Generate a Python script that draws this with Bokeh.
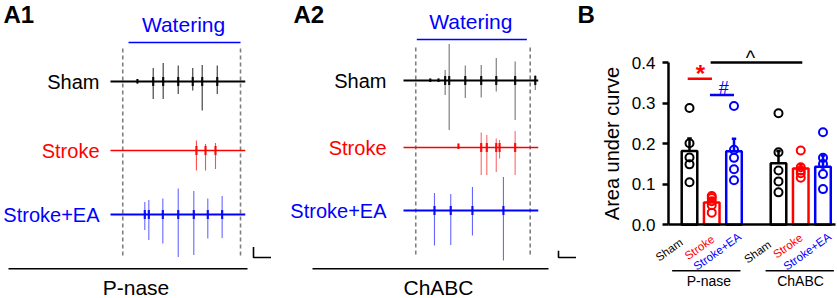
from bokeh.plotting import figure
from bokeh.layouts import row
from bokeh.models import Range1d, LinearAxis, FixedTicker, NumeralTickFormatter
from bokeh.core.properties import value
from bokeh.embed import file_html
from bokeh.resources import INLINE

FONT = "Liberation Sans"

# ---------------- data ----------------
groups = ["Sham", "Stroke", "Stroke+EA"]
group_colors = ["#000000", "#ff0000", "#0000ff"]
treatments = ["P-nase", "ChABC"]

# A1 (P-nase) traces: spike times (s), upward / downward amplitudes (mV)
a1_sham_t = [1.54, 2.44, 3.01, 3.87, 4.70, 5.24, 6.10]
a1_sham_up = [0.05, 0.27, 0.37, 0.32, 0.27, 0.33, 0.32]
a1_sham_dn = [0.04, 0.35, 0.35, 0.25, 0.18, 0.58, 0.25]
a1_stroke_t = [4.91, 5.43, 6.00]
a1_stroke_up = [0.20, 0.13, 0.15]
a1_stroke_dn = [0.40, 0.40, 0.37]
a1_ea_t = [1.96, 2.19, 2.99, 3.87, 4.76, 5.56, 6.38]
a1_ea_up = [0.25, 0.29, 0.32, 0.52, 0.47, 0.32, 0.37]
a1_ea_dn = [0.31, 0.51, 0.58, 0.85, 0.81, 0.48, 0.47]

# A2 (ChABC) traces
a2_sham_t = [1.53, 2.00, 2.38, 2.61, 3.53, 4.44, 5.30, 6.38, 7.53]
a2_sham_up = [0.04, 0.04, 0.21, 0.73, 0.30, 0.31, 0.45, 0.38, 0.11]
a2_sham_dn = [0.03, 0.03, 0.29, 0.99, 0.35, 0.34, 0.22, 0.79, 0.19]
a2_stroke_t = [3.14, 4.44, 4.76, 5.30, 5.49, 6.38]
a2_stroke_up = [0.08, 0.30, 0.25, 0.18, 0.15, 0.33]
a2_stroke_dn = [0.03, 0.55, 0.55, 0.49, 0.22, 0.55]
a2_ea_t = [1.77, 2.70, 3.94, 5.71]
a2_ea_up = [0.35, 0.33, 0.47, 0.67]
a2_ea_dn = [0.70, 0.69, 0.50, 1.00]

trace_len = 7.7          # s
watering_a1 = [1.03, 7.43]
watering_a2 = [0.76, 7.05]
dash_a1 = [0.70, 7.43]
dash_a2 = [0.70, 7.24]

# B: area under curve
pnase_mean = [0.182, 0.055, 0.181]
pnase_sem = [0.031, 0.008, 0.031]
chabc_mean = [0.152, 0.139, 0.143]
chabc_sem = [0.030, 0.010, 0.028]
pnase_sham = [0.288, 0.201, 0.166, 0.149, 0.105]
pnase_stroke = [0.071, 0.066, 0.058, 0.048, 0.030]
pnase_ea = [0.293, 0.185, 0.165, 0.137, 0.110]
chabc_sham = [0.275, 0.179, 0.134, 0.107, 0.080]
chabc_stroke = [0.183, 0.142, 0.134, 0.127, 0.116]
chabc_ea = [0.228, 0.165, 0.150, 0.125, 0.088]

# ---------------- panel A (traces) ----------------
pA = figure(width=600, height=298, x_range=Range1d(0, 600), y_range=Range1d(298, 0),
            toolbar_location=None, output_backend="svg",
            min_border=0, x_axis_location=None, y_axis_location=None)
pA.grid.visible = False
pA.outline_line_color = None

PX_S = 17.5
PX_MV = 50.0
CORE = 0.09


def trace(p, x0, y0, color, t, up, dn, lw, alpha):
    p.line([x0, x0 + trace_len * PX_S], [y0, y0], line_color=color, line_width=lw)
    xs = [x0 + ti * PX_S for ti in t]
    p.segment(x0=xs, y0=[y0 - u * PX_MV for u in up], x1=xs, y1=[y0 + d * PX_MV for d in dn],
              line_color=color, line_width=1.1, line_alpha=alpha)
    p.segment(x0=xs, y0=[y0 - min(u, CORE) * PX_MV for u in up], x1=xs,
              y1=[y0 + min(d, CORE) * PX_MV for d in dn],
              line_color=color, line_width=2.2, line_alpha=0.9)


panels = [
    dict(x0=110, rows=[81, 150, 214], lab_x=99, title="A1", title_x=3, treat=treatments[0],
         treat_line=(8, 247), dash=dash_a1, wat=watering_a1, wat_y=42, dash_y=(48, 258),
         scale=(253, 257, 10.6), alpha=[0.8, 0.7, 0.6],
         tr=[(a1_sham_t, a1_sham_up, a1_sham_dn), (a1_stroke_t, a1_stroke_up, a1_stroke_dn),
             (a1_ea_t, a1_ea_up, a1_ea_dn)]),
    dict(x0=403, rows=[80, 147, 210], lab_x=386, title="A2", title_x=293, treat=treatments[1],
         treat_line=(312, 548), dash=dash_a2, wat=watering_a2, wat_y=39, dash_y=(47, 255),
         scale=(558, 257, 6.7), alpha=[0.55, 0.6, 0.6],
         tr=[(a2_sham_t, a2_sham_up, a2_sham_dn), (a2_stroke_t, a2_stroke_up, a2_stroke_dn),
             (a2_ea_t, a2_ea_up, a2_ea_dn)]),
]

for pn in panels:
    x0 = pn["x0"]
    dx = [x0 + d * PX_S for d in pn["dash"]]
    pA.segment(x0=dx, y0=[pn["dash_y"][0]] * 2, x1=dx, y1=[pn["dash_y"][1]] * 2,
               line_color="#7f7f7f", line_width=1.6, line_dash="4 3")
    wx = [x0 + w * PX_S for w in pn["wat"]]
    pA.line(wx, [pn["wat_y"]] * 2, line_color="#0000ff", line_width=1.5)
    pA.text([sum(wx) / 2 - 1], [pn["wat_y"] - 18], text=["Watering"], text_color="#0000ff",
            text_font=value(FONT), text_font_size=value("21px"),
            text_align="center", text_baseline="middle")
    for (t, up, dn), y0, col, lw, al in zip(pn["tr"], pn["rows"], group_colors,
                                             [1.8, 1.4, 2.0], pn["alpha"]):
        trace(pA, x0, y0, col, t, up, dn, lw, al)
    pA.text([pn["lab_x"]] * 3, pn["rows"], text=groups, text_color=group_colors,
            text_font=value(FONT), text_font_size=value("20px"),
            text_align="right", text_baseline="middle")
    sx, sy, sh = pn["scale"]
    pA.line([sx, sx, sx + 1.0 * PX_S], [sy - sh, sy, sy], line_color="black", line_width=1.6)
    l0, l1 = pn["treat_line"]
    pA.line([l0, l1], [268.3, 268.3], line_color="black", line_width=1.6)
    pA.text([(l0 + l1) / 2 + 8], [286.5], text=[pn["treat"]], text_color="black",
            text_font=value(FONT), text_font_size=value("21px"),
            text_align="center", text_baseline="middle")
    pA.text([pn["title_x"]], [14], text=[pn["title"]], text_color="black",
            text_font=value(FONT), text_font_size=value("24px"), text_font_style="bold",
            text_align="left", text_baseline="middle")

pA.text([577], [14], text=["B"], text_color="black", text_font=value(FONT),
        text_font_size=value("24px"), text_font_style="bold",
        text_align="left", text_baseline="middle")

# ---------------- panel B (bar chart) ----------------
pB = figure(width=237, height=298, x_range=Range1d(-3.0, 7.652), y_range=Range1d(-0.1816, 0.5528),
            toolbar_location=None, output_backend="svg", x_axis_location=None,
            y_axis_location=None, min_border=0)
pB.grid.visible = False
pB.outline_line_color = None

ya = LinearAxis(fixed_location=0.056)
ya.bounds = (0, 0.4)
ya.ticker = FixedTicker(ticks=[0.0, 0.1, 0.2, 0.3, 0.4])
ya.formatter = NumeralTickFormatter(format="0.0")
ya.axis_line_width = 2.5
ya.major_tick_line_width = 2.5
ya.major_tick_out = 6
ya.major_tick_in = 0
ya.minor_tick_line_color = None
ya.major_label_standoff = 7
ya.major_label_text_font = FONT
ya.major_label_text_font_size = "17px"
ya.major_label_text_color = "black"
ya.axis_label = "Area under curve"
ya.axis_label_text_font = FONT
ya.axis_label_text_font_size = "20px"
ya.axis_label_text_font_style = "normal"
ya.axis_label_text_color = "black"
ya.axis_label_standoff = 6
pB.add_layout(ya, "left")

xa = LinearAxis(fixed_location=0)
xa.bounds = (0.056, 7.56)
xa.ticker = FixedTicker(ticks=[])
xa.axis_line_width = 2.5
xa.major_tick_line_color = None
xa.minor_tick_line_color = None
xa.major_label_text_font_size = "0px"
pB.add_layout(xa, "below")

pos = [1, 2, 3, 5, 6, 7]
means = pnase_mean + chabc_mean
sems = pnase_sem + chabc_sem
cols = group_colors * 2
pts = [pnase_sham, pnase_stroke, pnase_ea, chabc_sham, chabc_stroke, chabc_ea]

pB.vbar(x=pos, top=means, bottom=0, width=0.7, fill_color="white", line_color=cols, line_width=2.5)
tops = [m + s for m, s in zip(means, sems)]
pB.segment(x0=pos, y0=means, x1=pos, y1=tops, line_color=cols, line_width=2.5)
pB.segment(x0=[p - 0.1 for p in pos], y0=tops, x1=[p + 0.1 for p in pos], y1=tops,
           line_color=cols, line_width=2.5)
for p_, vals, c in zip(pos, pts, cols):
    pB.scatter([p_] * len(vals), vals, size=8, marker="circle", fill_color=None,
               line_color=c, line_width=2)

lab_y = [-0.040, -0.032, -0.026, -0.045, -0.028, -0.026]
lab_dx = [-0.36, 0.06, 0.26, -0.39, 0.03, 0.30]
pB.text([p + d for p, d in zip(pos, lab_dx)], lab_y, text=groups * 2, text_color=cols,
        angle=0.62, text_align="right", text_baseline="middle",
        text_font=value(FONT), text_font_size=value("11.5px"))

pB.segment(x0=[0.22, 4.42], y0=[-0.113, -0.113], x1=[3.29, 7.49], y1=[-0.113, -0.113],
           line_color="black", line_width=1.5)
pB.text([1.87, 5.99], [-0.139, -0.139], text=treatments, text_color="black",
        text_font=value(FONT), text_font_size=value("14px"),
        text_align="center", text_baseline="middle")

# significance marks
pB.segment(x0=[0.92, 1.92, 1.95], y0=[0.36, 0.32, 0.40], x1=[2.01, 3.0, 6.07], y1=[0.36, 0.32, 0.40],
           line_color=["#ff0000", "#0000ff", "#000000"], line_width=2.5)
pB.text([1.49], [0.372], text=["*"], text_color="#ff0000", text_font=value(FONT),
        text_font_size=value("24px"), text_font_style="bold",
        text_align="center", text_baseline="middle")
pB.text([2.54], [0.338], text=["#"], text_color="#0000ff",
        text_font=value(FONT), text_font_size=value("18px"),
        text_align="center", text_baseline="middle")
pB.text([3.74], [0.410], text=["^"], text_color="#000000",
        text_font=value(FONT), text_font_size=value("20px"),
        text_align="center", text_baseline="middle")

layout = row(pA, pB, spacing=0)
open("out.html", "w").write(file_html(layout, INLINE))
